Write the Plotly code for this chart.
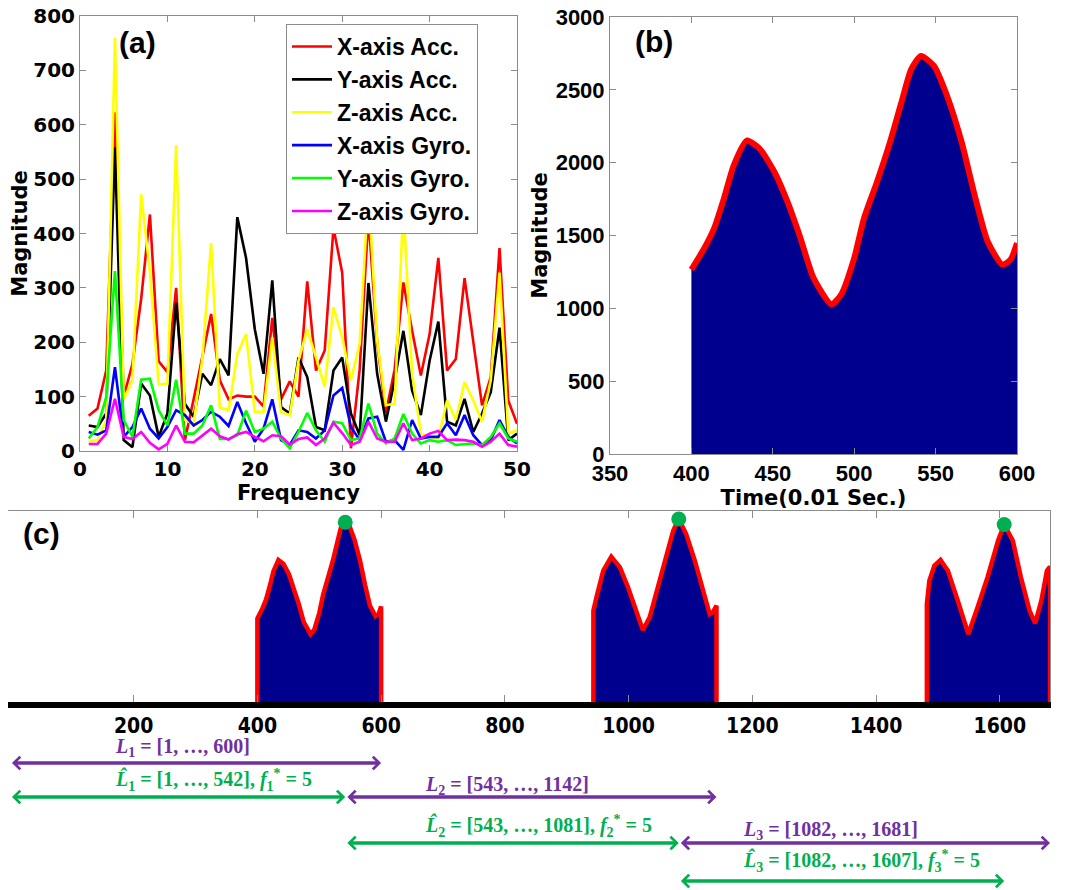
import plotly.graph_objects as go
import numpy as np

W, H = 1083, 890
PAGE_OFFSET = 8  # the page body adds an 8px margin around the figure

# ---------------- Panel (a) data : FFT magnitudes ----------------
freq = list(range(1, 51))
x_acc = [65, 78, 148, 623, 100, 160, 280, 435, 165, 145,
         300, 20, 95, 175, 252, 130, 95, 102, 100, 100,
         82, 245, 95, 128, 100, 312, 148, 185, 410, 328,
         5, 150, 430, 200, 70, 150, 310, 221, 139, 215,
         355, 148, 169, 318, 203, 84, 136, 373, 93, 50]
y_acc = [47, 44, 69, 559, 20, 7, 124, 102, 26, 69,
         273, 87, 63, 142, 121, 169, 139, 430, 355, 224,
         142, 314, 81, 69, 172, 136, 44, 38, 148, 172,
         69, 29, 309, 142, 54, 130, 221, 111, 66, 166,
         238, 54, 47, 96, 35, 69, 108, 227, 20, 32]
z_acc = [17, 20, 57, 760, 95, 130, 472, 330, 122, 124,
         562, 57, 50, 170, 382, 80, 75, 178, 215, 72,
         72, 209, 72, 66, 166, 224, 172, 118, 264, 209,
         130, 197, 480, 203, 84, 87, 450, 142, 32, 26,
         23, 93, 57, 127, 93, 54, 130, 328, 32, 38]
x_gyro = [35, 30, 38, 154, 26, 44, 78, 41, 23, 44,
          75, 66, 47, 57, 72, 63, 46, 90, 51, 17,
          41, 95, 20, 11, 38, 35, 23, 38, 102, 116,
          44, 20, 60, 63, 17, 20, 2, 57, 23, 26,
          26, 51, 29, 66, 29, 11, 20, 57, 26, 14]
y_gyro = [23, 44, 99, 331, 57, 26, 131, 133, 75, 47,
          131, 32, 32, 47, 84, 22, 22, 29, 74, 35,
          41, 54, 23, 5, 35, 70, 38, 17, 54, 51,
          20, 23, 87, 32, 14, 23, 68, 32, 14, 20,
          17, 20, 11, 13, 14, 11, 26, 51, 23, 17]
z_gyro = [13, 13, 32, 96, 26, 22, 35, 15, 3, 13,
          47, 17, 16, 29, 41, 27, 21, 31, 35, 26,
          18, 29, 27, 12, 22, 25, 11, 23, 52, 33,
          11, 17, 54, 23, 17, 17, 51, 20, 23, 32,
          37, 20, 21, 20, 17, 8, 17, 32, 11, 8]
series_names = ["X-axis Acc.", "Y-axis Acc.", "Z-axis Acc.",
                "X-axis Gyro.", "Y-axis Gyro.", "Z-axis Gyro."]
series_colors = ["#ff0000", "#000000", "#ffff00", "#0000ff", "#00ff00", "#ff00ff"]

# ---------------- Panel (b)/(c) data : magnitude segments ----------------
t1 = [400, 408, 414, 420, 426, 434, 442, 451, 459, 467, 475, 486, 492, 500,
      506, 514, 522, 529, 535, 541, 549, 557, 566, 574, 582, 591, 596, 600]
m1 = [1266, 1414, 1550, 1755, 1982, 2152, 2095, 1936, 1732, 1482, 1209, 1027, 1095, 1345,
      1618, 1868, 2141, 2414, 2641, 2732, 2664, 2459, 2141, 1777, 1459, 1300, 1334, 1448]
t2 = [943, 948, 959, 972, 986, 999, 1012, 1023, 1034, 1047, 1061, 1072, 1081,
      1093, 1107, 1120, 1131, 1136, 1142]
m2 = [1383, 1586, 1990, 2202, 2040, 1737, 1384, 1091, 1283, 1737, 2192, 2596, 2773,
      2545, 2141, 1687, 1333, 1359, 1460]
t3 = [1482, 1486, 1494, 1504, 1516, 1532, 1549, 1564, 1580, 1597, 1607, 1621,
      1634, 1648, 1657, 1667, 1676, 1681, 1681]
m3 = [1485, 1838, 2066, 2152, 1990, 1535, 1030, 1434, 1889, 2444, 2690, 2444,
      1889, 1384, 1192, 1535, 1990, 2050, 803]
peak_x = [542, 1081, 1607]

# window annotations: (label html, start, end, colour key)
windows = [
    ("<i>L</i><sub>1</sub> = [1, …, 600]", 1, 600, "p"),
    ("<i>L̂</i><sub>1</sub> = [1, …, 542], <i>f</i><sub>1</sub><sup>*</sup> = 5", 1, 542, "g"),
    ("<i>L</i><sub>2</sub> = [543, …, 1142]", 543, 1142, "p"),
    ("<i>L̂</i><sub>2</sub> = [543, …, 1081], <i>f</i><sub>2</sub><sup>*</sup> = 5", 543, 1081, "g"),
    ("<i>L</i><sub>3</sub> = [1082, …, 1681]", 1082, 1681, "p"),
    ("<i>L̂</i><sub>3</sub> = [1082, …, 1607], <i>f</i><sub>3</sub><sup>*</sup> = 5", 1082, 1607, "g"),
]
# layout positions (page pixels) for arrows and labels
arrow_y_px = [763, 797, 797, 843, 843, 881]
label_y_px = [747, 780, 785, 826, 830, 861]
label_x_px = [113, 113, 423, 423, 741, 741]
win_colors = {"p": "#7030a0", "g": "#00b050"}

GRAY = "#8c8c8c"
NAVY = "#00008f"
TICKFONT_A = dict(family="DejaVu Sans", size=20, color="black", weight="bold")
TICKFONT_B = dict(family="Liberation Sans", size=22, color="black", weight="bold")
TICKFONT_C = dict(family="DejaVu Sans Condensed, DejaVu Sans", size=21, color="black", weight="bold")
TITLEFONT = dict(family="DejaVu Sans", size=21, color="black", weight="bold")


def px(x):
    return (x - PAGE_OFFSET) / W


def py(y):
    return 1 - (y - PAGE_OFFSET) / H


fig = go.Figure()

# Panel (a)
for name, col, vals in zip(series_names, series_colors,
                           [x_acc, y_acc, z_acc, x_gyro, y_gyro, z_gyro]):
    fig.add_trace(go.Scatter(x=freq, y=vals, mode="lines", name=name,
                             legendgroup=name,
                             line=dict(color=col, width=2.6),
                             xaxis="x", yaxis="y"))

# Panel (b)
fig.add_trace(go.Scatter(x=t1, y=m1, mode="lines", fill="tozeroy", fillcolor=NAVY,
                         line=dict(color="#ff0000", width=6, shape="spline", smoothing=0.6),
                         showlegend=False, xaxis="x2", yaxis="y2"))

# Panel (c): one filled trace per window segment
for tt, mm in [(t1, m1), (t2, m2), (t3, m3)]:
    fig.add_trace(go.Scatter(x=[tt[0]] + tt + [tt[-1]], y=[0] + mm + [0],
                             mode="lines", fill="tozeroy", fillcolor=NAVY,
                             line=dict(color="#ff0000", width=4.5),
                             showlegend=False, xaxis="x3", yaxis="y3"))

all_t = t1 + t2 + t3[:-1]
all_m = m1 + m2 + m3[:-1]
peak_y = [float(np.interp(p, all_t, all_m)) for p in peak_x]
fig.add_trace(go.Scatter(x=peak_x, y=peak_y, mode="markers",
                         marker=dict(color="#00b050", size=15),
                         showlegend=False, xaxis="x4", yaxis="y3", cliponaxis=False))


def box_axis(tickfont):
    return dict(showline=True, linecolor=GRAY, linewidth=1, mirror="ticks",
                ticks="inside", ticklen=6, tickcolor=GRAY, showgrid=False,
                zeroline=False, tickfont=tickfont, automargin=False,
                ticklabeloverflow="allow")


fig.update_layout(
    width=W, height=H,
    margin=dict(l=0, r=0, t=0, b=0, autoexpand=False),
    paper_bgcolor="white", plot_bgcolor="white",
    xaxis=dict(domain=[px(80), px(517)], range=[0, 50], tickvals=list(range(0, 51, 10)),
               anchor="y", title=dict(text="Frequency", font=TITLEFONT, standoff=0),
               **box_axis(TICKFONT_A)),
    yaxis=dict(domain=[py(451), py(16)], range=[0, 800], tickvals=list(range(0, 801, 100)),
               anchor="x", title=dict(text="Magnitude", font=TITLEFONT, standoff=2),
               **box_axis(TICKFONT_A)),
    xaxis2=dict(domain=[px(610), px(1017)], range=[350, 600], tickvals=list(range(350, 601, 50)),
                anchor="y2", title=dict(text="Time(0.01 Sec.)", font=TITLEFONT, standoff=0),
                **box_axis(TICKFONT_B)),
    yaxis2=dict(domain=[py(454), py(17)], range=[0, 3000], tickvals=list(range(0, 3001, 500)),
                anchor="x2", title=dict(text="Magnitude", font=TITLEFONT, standoff=2),
                **box_axis(TICKFONT_B)),
    xaxis3=dict(domain=[px(8), px(1050)], range=[-3, 1681],
                tickvals=list(range(200, 1601, 200)), anchor="y3",
                showline=True, linecolor="black", linewidth=6, mirror=False,
                ticks="inside", ticklen=7, tickcolor=GRAY, showgrid=False, zeroline=False,
                tickfont=TICKFONT_C, automargin=False, ticklabeloverflow="allow"),
    xaxis4=dict(overlaying="x3", anchor="y3", side="top", range=[-3, 1681],
                tickvals=list(range(200, 1601, 200)), showticklabels=False,
                showline=True, linecolor=GRAY, linewidth=1,
                ticks="inside", ticklen=7, tickcolor=GRAY, showgrid=False, zeroline=False,
                automargin=False),
    yaxis3=dict(domain=[py(702), py(511)], range=[0, 2894], anchor="x3",
                showline=True, linecolor=GRAY, linewidth=1, mirror=True,
                showticklabels=False, ticks="", showgrid=False, zeroline=False,
                automargin=False),
    legend=dict(x=px(286), y=py(24), xanchor="left", yanchor="top",
                bgcolor="white", bordercolor=GRAY, borderwidth=1,
                font=dict(family="Liberation Sans", size=23, color="black", weight="bold"),
                tracegroupgap=0, itemwidth=40),
    showlegend=True,
)

# panel letters
for txt, xp, yp in [("(a)", 117, 42), ("(b)", 633, 41), ("(c)", 21, 533)]:
    fig.add_annotation(text=txt, x=px(xp), y=py(yp), xref="paper", yref="paper",
                       xanchor="left", yanchor="middle", showarrow=False,
                       font=dict(family="Liberation Sans", size=30, color="black", weight="bold"))

# window arrows and labels
for (lab, s, e, ck), ay_px, ly, lx in zip(windows, arrow_y_px, label_y_px, label_x_px):
    col = win_colors[ck]
    fig.add_annotation(x=e, y=py(ay_px), xref="x3", yref="paper",
                       ax=s, ay=0, axref="x3", ayref="pixel",
                       text="", showarrow=True, arrowside="end+start",
                       arrowhead=4, startarrowhead=4, arrowsize=0.7, startarrowsize=0.7,
                       arrowwidth=3.5, arrowcolor=col, standoff=0, startstandoff=0)
    fig.add_annotation(text=lab, x=px(lx), y=py(ly), xref="paper", yref="paper",
                       xanchor="left", yanchor="middle", showarrow=False,
                       font=dict(family="Liberation Serif", size=20, color=col, weight="bold"))

fig.write_html("out.html")
